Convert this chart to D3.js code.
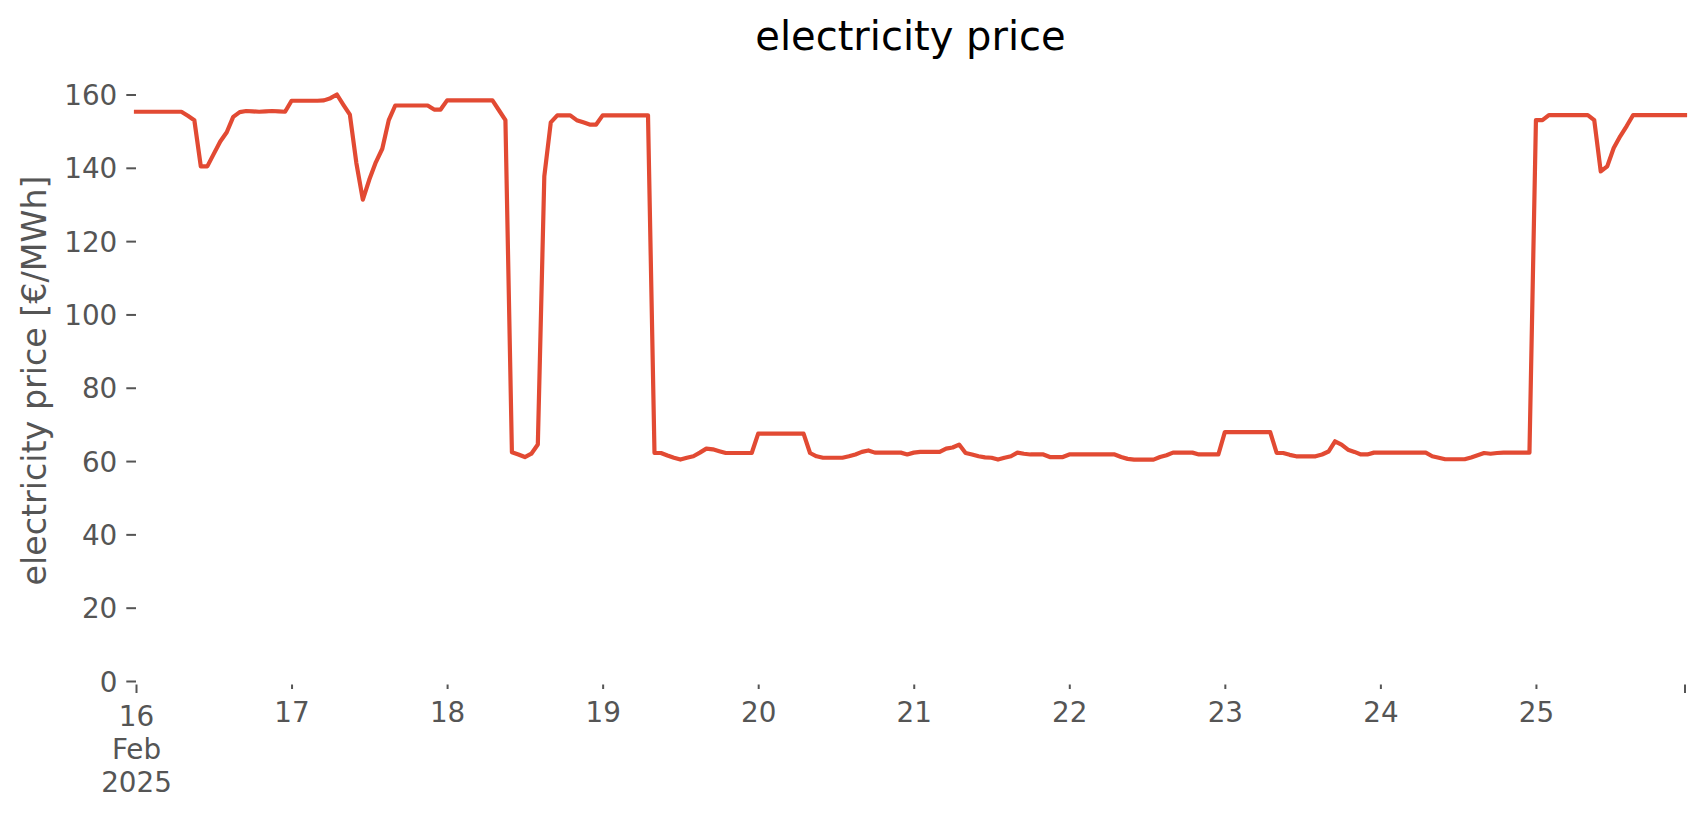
<!DOCTYPE html>
<html>
<head>
<meta charset="utf-8">
<script src="https://cdn.jsdelivr.net/npm/d3@7"></script>
<style>
  html, body { margin: 0; padding: 0; background: #ffffff; }
  svg { display: block; }
  text { font-family: "DejaVu Sans", sans-serif; }
</style>
</head>
<body>
<div id="chart"></div>
<script>
// Hourly electricity prices [€/MWh], one array per day (00:00 … 23:00)
const day16 = [155.3,155.3,155.3,155.3,155.3,155.3,155.3,155.3,154.2,153.0,140.4,140.4,143.8,147.2,149.7,153.9,155.2,155.5,155.4,155.3,155.4,155.5,155.4,155.3];
const day17 = [158.3,158.3,158.3,158.3,158.3,158.4,159.0,160.0,157.2,154.5,141.3,131.3,136.8,141.5,145.2,153.0,157.0,157.0,157.0,157.0,157.0,157.0,155.9,155.9];
const day18 = [158.4,158.4,158.4,158.4,158.4,158.4,158.4,158.4,155.7,153.0,62.4,61.8,61.1,62.0,64.5,137.7,152.4,154.3,154.3,154.3,153.0,152.4,151.8,151.8];
const day19 = [154.3,154.3,154.3,154.3,154.3,154.3,154.3,154.3,62.2,62.2,61.5,60.9,60.4,60.9,61.3,62.3,63.4,63.2,62.7,62.2,62.2,62.2,62.2,62.2];
const day20 = [67.5,67.5,67.5,67.5,67.5,67.5,67.5,67.5,62.2,61.3,60.9,60.9,60.9,60.9,61.3,61.8,62.5,62.9,62.3,62.3,62.3,62.3,62.3,61.8];
const day21 = [62.3,62.5,62.5,62.5,62.5,63.4,63.7,64.5,62.2,61.8,61.3,61.0,60.9,60.4,60.9,61.3,62.3,62.0,61.8,61.8,61.8,61.1,61.1,61.1];
const day22 = [61.8,61.8,61.8,61.8,61.8,61.8,61.8,61.8,61.1,60.6,60.4,60.4,60.4,60.4,61.1,61.6,62.3,62.3,62.3,62.3,61.8,61.8,61.8,61.8];
const day23 = [67.9,67.9,67.9,67.9,67.9,67.9,67.9,67.9,62.2,62.2,61.7,61.3,61.3,61.3,61.3,61.8,62.6,65.4,64.5,63.1,62.5,61.8,61.8,62.3];
const day24 = [62.3,62.3,62.3,62.3,62.3,62.3,62.3,62.3,61.3,60.9,60.5,60.5,60.5,60.5,61.0,61.6,62.2,62.0,62.2,62.3,62.3,62.3,62.3,62.3];
const day25 = [153.0,153.0,154.4,154.4,154.4,154.4,154.4,154.4,154.4,153.0,139.0,140.4,145.4,148.6,151.4,154.4,154.4,154.4,154.4,154.4,154.4,154.4,154.4,154.4];

const days = [16,17,18,19,20,21,22,23,24,25];
const dayArrays = [day16,day17,day18,day19,day20,day21,day22,day23,day24,day25];
const yTicks = [0,20,40,60,80,100,120,140,160];

const data = [];
dayArrays.forEach((arr, i) => {
  arr.forEach((v, h) => {
    data.push({ t: new Date(Date.UTC(2025, 1, days[i], h)), v: v });
  });
});

const W = 1706, H = 815;
const svg = d3.select("#chart").append("svg").attr("width", W).attr("height", H);

const left = 136, right = 1685;
const x = d3.scaleUtc()
  .domain([data[0].t, data[data.length - 1].t])
  .range([left, right]);
const y = d3.scaleLinear()
  .domain([0, 160])
  .range([681, 94.5]);

const axisBottomY = 684.5;
const textColor = "#555555";
const tickFont = 27.8;

// Y axis
const gy = svg.append("g").attr("transform", `translate(${left},0)`)
  .call(d3.axisLeft(y).tickValues(yTicks).tickSize(9.7).tickPadding(9).tickFormat(d3.format("d")));
gy.select(".domain").remove();
gy.selectAll(".tick line").attr("stroke", textColor).attr("stroke-width", 2);
gy.selectAll(".tick text").attr("fill", textColor).attr("font-size", tickFont)
  .attr("font-family", "DejaVu Sans").attr("dy", "0.36em");

// X axis
const tickDates = days.map(d => new Date(Date.UTC(2025, 1, d)));
const gx = svg.append("g").attr("transform", `translate(0,${axisBottomY})`)
  .call(d3.axisBottom(x).tickValues(tickDates).tickSize(4.5).tickFormat(d3.utcFormat("%-d")));
gx.select(".domain").remove();
gx.selectAll(".tick line").attr("stroke", textColor).attr("stroke-width", 2);
gx.selectAll(".tick text").attr("fill", textColor).attr("font-size", tickFont)
  .attr("font-family", "DejaVu Sans").attr("y", 37.5).attr("dy", 0);

// Major tick at the start with month / year
gx.selectAll(".tick").filter((d, i) => i === 0).each(function() {
  const g = d3.select(this);
  g.select("line").attr("y2", 8.5);
  g.select("text").attr("y", 41.5);
  g.append("text").attr("fill", textColor).attr("font-size", tickFont)
    .attr("font-family", "DejaVu Sans").attr("text-anchor", "middle")
    .attr("y", 74.5).text("Feb");
  g.append("text").attr("fill", textColor).attr("font-size", tickFont)
    .attr("font-family", "DejaVu Sans").attr("text-anchor", "middle")
    .attr("y", 107).text("2025");
});
// Major tick at the end of the range
gx.append("line")
  .attr("x1", x(data[data.length - 1].t)).attr("x2", x(data[data.length - 1].t))
  .attr("y1", 0).attr("y2", 8.5)
  .attr("stroke", textColor).attr("stroke-width", 2);

// Line
const line = d3.line().x(d => x(d.t)).y(d => y(d.v));
svg.append("path").datum(data)
  .attr("d", line)
  .attr("fill", "none")
  .attr("stroke", "#E24A33")
  .attr("stroke-width", 4.2)
  .attr("stroke-linejoin", "round")
  .attr("stroke-linecap", "square");

// Title
svg.append("text")
  .attr("x", (left + right) / 2).attr("y", 50)
  .attr("text-anchor", "middle")
  .attr("font-size", 40)
  .attr("fill", "#000000")
  .text("electricity price");

// Y label
svg.append("text")
  .attr("transform", `translate(46,${(77 + 684) / 2}) rotate(-90)`)
  .attr("text-anchor", "middle")
  .attr("font-size", 33.3)
  .attr("fill", textColor)
  .text("electricity price [€/MWh]");
</script>
</body>
</html>
